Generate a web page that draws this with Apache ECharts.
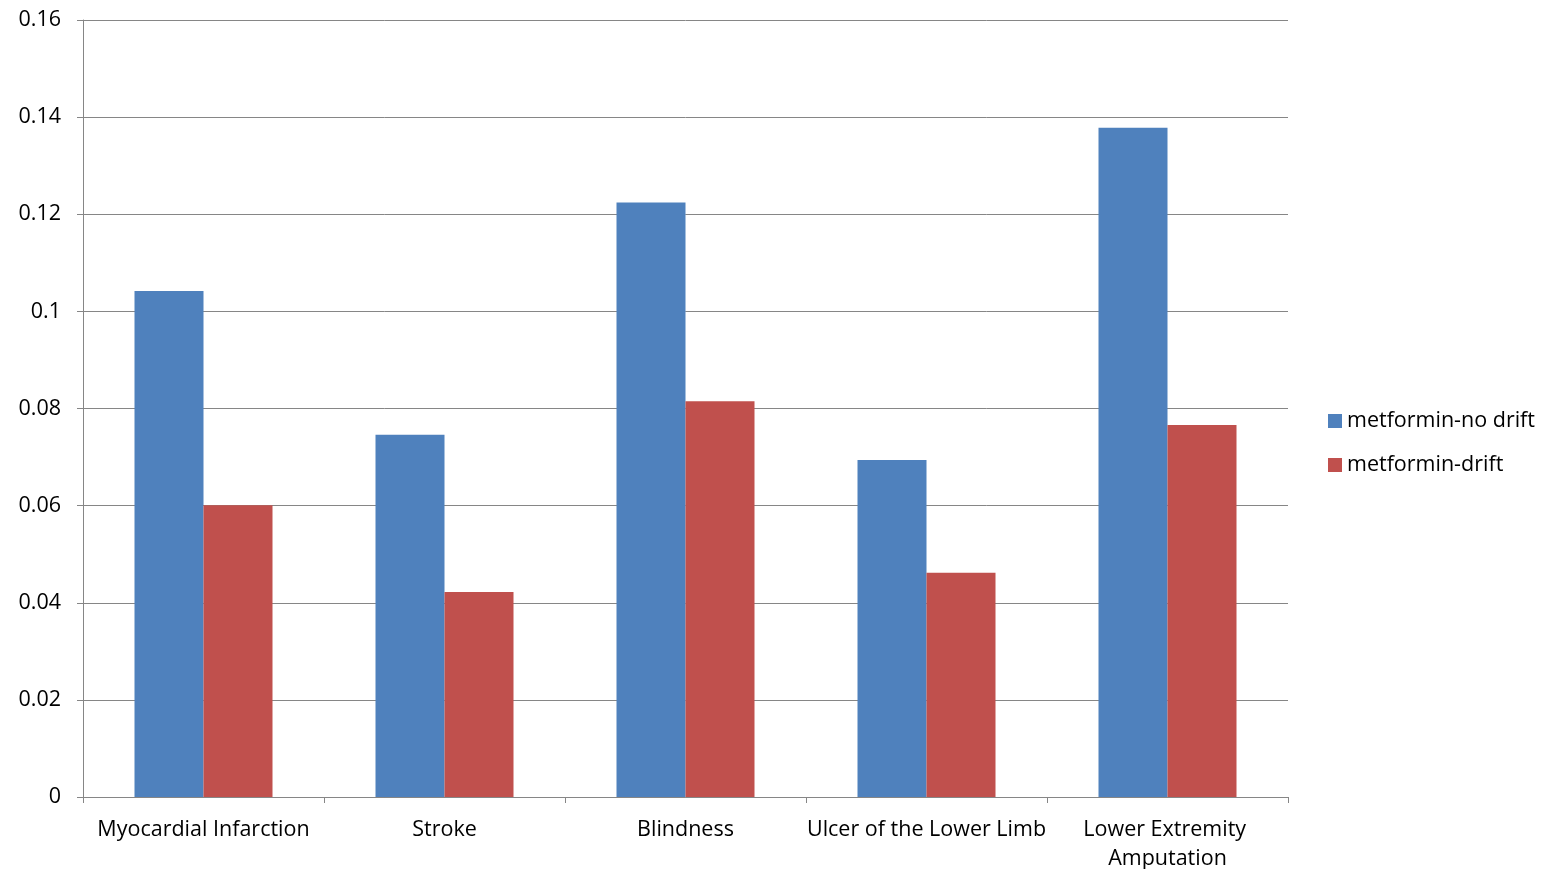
<!DOCTYPE html>
<html><head><meta charset="utf-8">
<script src="https://cdn.jsdelivr.net/npm/echarts@6/dist/echarts.min.js"></script>
<style>html,body{margin:0;padding:0;background:#fff}#c{width:1542px;height:869px}</style>
</head><body><div id="c"></div>
<script>
const categories = ['Myocardial Infarction','Stroke','Blindness','Ulcer of the Lower Limb','Lower Extremity Amputation'];
const noDrift = [0.1042, 0.0746, 0.1224, 0.0694, 0.1378];
const drift = [0.0601, 0.0422, 0.0815, 0.0462, 0.0766];
const yTicks = [0, 0.02, 0.04, 0.06, 0.08, 0.1, 0.12, 0.14, 0.16];
const font = '"Open Sans", "Liberation Sans", sans-serif';
const chart = echarts.init(document.getElementById('c'));
chart.setOption({
  animation:false,
  textStyle:{fontFamily:font},
  grid:{left:83,right:254,top:20,bottom:72,containLabel:false,outerBoundsMode:'none'},
  legend:{orient:'vertical',left:1323,top:405,itemWidth:14,itemHeight:14,itemGap:22,icon:'rect',
    textStyle:{fontSize:21.5,color:'#000',fontFamily:font}},
  xAxis:{type:'category',data:categories,
    axisLine:{lineStyle:{color:'#868686'}},
    axisTick:{show:true,alignWithLabel:false,length:6,lineStyle:{color:'#868686'}},
    axisLabel:{fontSize:21.5,color:'#000',margin:18,interval:0,lineHeight:29,
      width:252,overflow:'break'}},
  yAxis:{type:'value',min:0,max:0.16,interval:0.02,
    axisLine:{show:true,lineStyle:{color:'#868686'}},
    axisTick:{show:true,length:6,lineStyle:{color:'#868686'}},
    splitLine:{lineStyle:{color:'#868686'}},
    axisLabel:{fontSize:21.5,color:'#000',margin:22,
      formatter:v=>{const t=yTicks.find(x=>Math.abs(x-v)<1e-9);return t===undefined?'':String(t);}}},
  series:[
    {name:'metformin-no drift',type:'bar',data:noDrift,barWidth:69,barGap:'0%',itemStyle:{color:'#4F81BD'}},
    {name:'metformin-drift',type:'bar',data:drift,barWidth:69,barGap:'0%',itemStyle:{color:'#C0504D'}}
  ]
});
</script></body></html>
